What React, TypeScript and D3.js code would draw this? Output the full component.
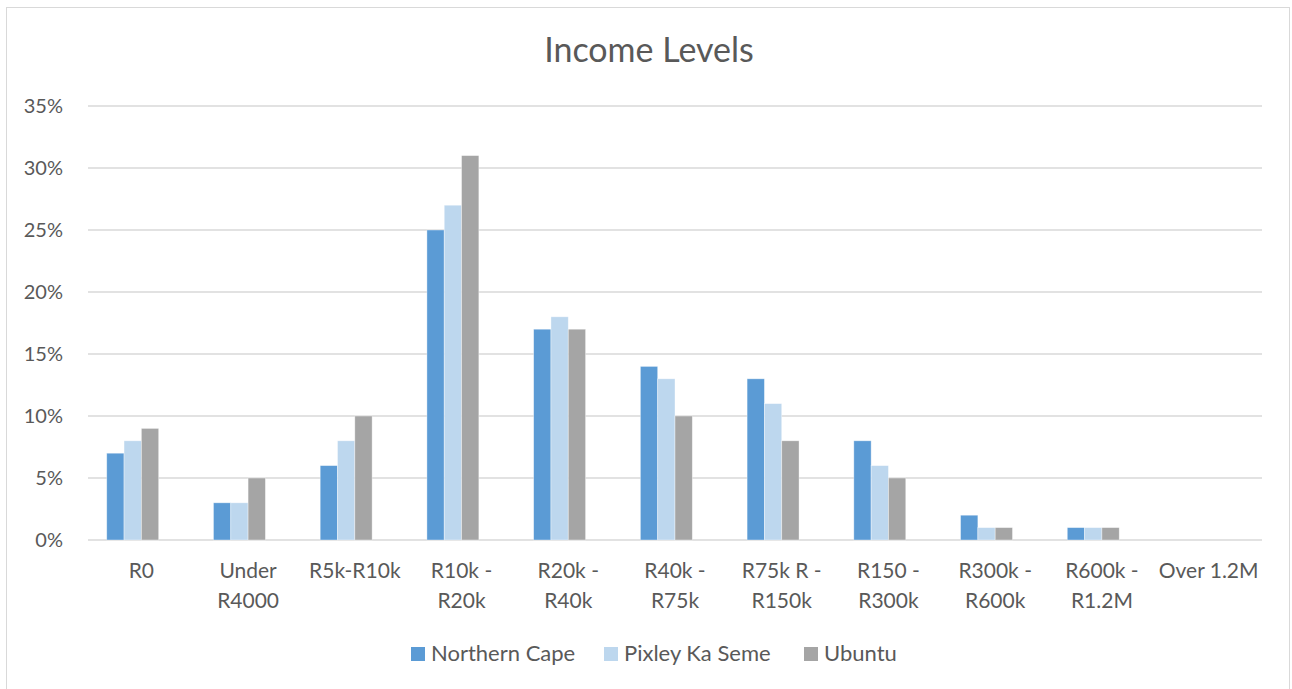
import * as d3 from 'd3';
import React from 'react';

const categories = ["R0", "Under\nR4000", "R5k-R10k", "R10k -\nR20k", "R20k -\nR40k", "R40k -\nR75k", "R75k R -\nR150k", "R150 -\nR300k", "R300k -\nR600k", "R600k -\nR1.2M", "Over 1.2M"];
const series = ["Northern Cape", "Pixley Ka Seme", "Ubuntu"];
const northernCape = [7, 3, 6, 25, 17, 14, 13, 8, 2, 1, 0];
const pixleyKaSeme = [8, 3, 8, 27, 18, 13, 11, 6, 1, 1, 0];
const ubuntu = [9, 5, 10, 31, 17, 10, 8, 5, 1, 1, 0];
const yTicks = [0, 5, 10, 15, 20, 25, 30, 35];
const colors = ["#5B9BD5", "#BDD7EE", "#A5A5A5"];

const W = 1292, H = 689;
const margin = { top: 106, right: 30, bottom: 149, left: 88 };
const font = "Lato, 'Open Sans', sans-serif";

export default function App() {
  const values = [northernCape, pixleyKaSeme, ubuntu];
  const x = d3.scaleBand().domain(categories).range([margin.left, W - margin.right]).padding(0);
  // the source chart reserves a 4th (empty) slot, so the group sits left of centre
  const groupW = x.bandwidth() * 0.649;
  const xs = d3.scaleBand().domain([...series, "_blank"]).range([0, groupW]).padding(0);
  const y = d3.scaleLinear().domain([0, 35]).range([H - margin.bottom, margin.top]);

  return (
    <svg width={W} height={H} style={{ position: 'absolute', left: 0, top: 0 }}>
      <rect x={0} y={0} width={W} height={H} fill="#fff" />
      <rect x={6.5} y={7.5} width={1283} height={700} fill="none" stroke="#D9D9D9" />
      <text x={649} y={62} textAnchor="middle" fontFamily={font} fontSize={34} fill="#595959">Income Levels</text>
      {yTicks.map(t => (
        <g key={t}>
          <line x1={margin.left} x2={W - margin.right} y1={y(t)} y2={y(t)} stroke="#D9D9D9" strokeWidth={1.5} />
          <text x={63} y={y(t)} dy="0.35em" textAnchor="end" fontFamily={font} fontSize={20} fill="#595959">{t}%</text>
        </g>
      ))}
      {categories.map((c, ci) => {
        const gx = (x(c) as number) + (x.bandwidth() - groupW) / 2;
        return (
          <g key={c}>
            {series.map((s, si) => {
              const v = values[si][ci];
              if (v <= 0) return null;
              return (
                <rect key={s} x={gx + (xs(s) as number)} y={y(v)} width={xs.bandwidth()} height={y(0) - y(v)}
                  fill={colors[si]} stroke="#ffffff" strokeOpacity={0.5} strokeWidth={0.75} />
              );
            })}
            {c.split("\n").map((line, li) => (
              <text key={li} x={(x(c) as number) + x.bandwidth() / 2} y={578 + li * 30} textAnchor="middle"
                fontFamily={font} fontSize={21} fill="#595959">{line}</text>
            ))}
          </g>
        );
      })}
      {(() => {
        const starts = [411, 604, 804];
        return series.map((s, si) => (
          <g key={s}>
            <rect x={starts[si]} y={647} width={14} height={14} fill={colors[si]} />
            <text x={starts[si] + 20} y={661} fontFamily={font} fontSize={22} fill="#595959">{s}</text>
          </g>
        ));
      })()}
    </svg>
  );
}
